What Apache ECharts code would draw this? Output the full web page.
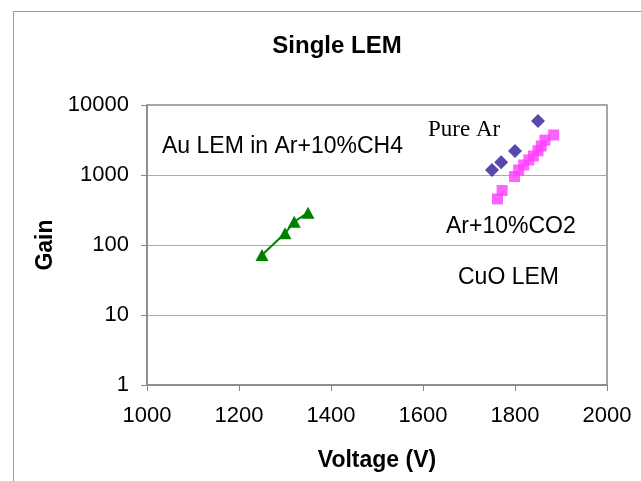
<!DOCTYPE html>
<html lang="en">
<head>
<meta charset="utf-8">
<title>Single LEM</title>
<script src="https://cdn.jsdelivr.net/npm/echarts@6/dist/echarts.min.js"></script>
<style>
  html, body { margin: 0; padding: 0; background: #fff; }
  #main { width: 641px; height: 481px; }
</style>
</head>
<body>
<div id="main"></div>
<script>
// values (voltage in V, gain)
var auVolt = [1250, 1300, 1320, 1350];
var auGain = [72, 147, 215, 290];

var arVolt = [1750, 1770, 1800, 1850];
var arGain = [1180, 1520, 2200, 5900];

var co2Volt = [1762, 1772, 1799, 1808, 1819, 1830, 1840, 1850, 1857, 1865, 1884];
var co2Gain = [455, 600, 950, 1180, 1390, 1640, 1870, 2220, 2600, 3150, 3730];

function pairs(xs, ys) {
    var out = [];
    for (var i = 0; i < xs.length; i++) out.push([xs[i], ys[i]]);
    return out;
}

var font = '"Liberation Sans", Arial, sans-serif';
var myChart = echarts.init(document.getElementById('main'));

var option = {
    backgroundColor: '#fff',
    animation: false,
    title: {
        text: 'Single LEM',
        left: 332,
        top: 29,
        textAlign: 'center',
        textStyle: { fontFamily: font, fontSize: 24, fontWeight: 'bold', color: '#000' }
    },
    grid: {
        left: 147, right: 34, top: 105, bottom: 96,
        show: true, borderColor: '#888', borderWidth: 1.5
    },
    xAxis: {
        type: 'value',
        min: 1000, max: 2000, interval: 200,
        name: 'Voltage (V)',
        nameLocation: 'middle',
        nameGap: 64,
        nameTextStyle: { fontFamily: font, fontSize: 23, fontWeight: 'bold', color: '#000' },
        axisLine: { lineStyle: { color: '#888', width: 1.5 } },
        axisTick: { show: true, length: 6, lineStyle: { color: '#888' } },
        axisLabel: { fontFamily: font, fontSize: 22, color: '#000', margin: 20,
                     formatter: function (v) { return String(v); } },
        splitLine: { show: false }
    },
    yAxis: {
        type: 'log',
        logBase: 10,
        min: 1, max: 10000,
        name: 'Gain',
        nameLocation: 'middle',
        nameGap: 90,
        nameRotate: 90,
        nameTextStyle: { fontFamily: font, fontSize: 23, fontWeight: 'bold', color: '#000' },
        axisLine: { show: true, lineStyle: { color: '#888', width: 1.5 } },
        axisTick: { show: true, length: 6, lineStyle: { color: '#888' } },
        axisLabel: { fontFamily: font, fontSize: 22, color: '#000', margin: 18,
                     formatter: function (v) { return String(Math.round(v)); } },
        splitLine: { show: true, lineStyle: { color: '#aaa', width: 1 } }
    },
    graphic: [
        { type: 'rect', left: 11, top: 9, shape: { width: 700, height: 560 },
          style: { fill: 'none', stroke: '#999', lineWidth: 1 }, silent: true, z: -1 },
        { type: 'text', x: 162, y: 147, style: { text: 'Au LEM in Ar+10%CH4', font: '23px ' + font, fill: '#000', verticalAlign: 'middle' } },
        { type: 'text', x: 428, y: 130, style: { text: 'Pure Ar', font: '23px "Liberation Serif", "Times New Roman", serif', fill: '#000', verticalAlign: 'middle' } },
        { type: 'text', x: 446, y: 227, style: { text: 'Ar+10%CO2', font: '23px ' + font, fill: '#000', verticalAlign: 'middle' } },
        { type: 'text', x: 458, y: 278, style: { text: 'CuO LEM', font: '23px ' + font, fill: '#000', verticalAlign: 'middle' } }
    ],
    series: [
        {
            name: 'Au LEM in Ar+10%CH4',
            type: 'line',
            data: pairs(auVolt, auGain),
            symbol: 'triangle',
            symbolSize: [13, 12],
            itemStyle: { color: '#008000' },
            lineStyle: { color: '#008000', width: 2 }
        },
        {
            name: 'Ar+10%CO2',
            type: 'scatter',
            data: pairs(co2Volt, co2Gain),
            symbol: 'rect',
            symbolSize: 11,
            itemStyle: { color: '#ff3cff' }
        },
        {
            name: 'Pure Ar',
            type: 'scatter',
            data: pairs(arVolt, arGain),
            symbol: 'diamond',
            symbolSize: [14, 14],
            itemStyle: { color: '#2a1c98' }
        }
    ]
};

myChart.setOption(option);
window.onresize = myChart.resize;
</script>
</body>
</html>
